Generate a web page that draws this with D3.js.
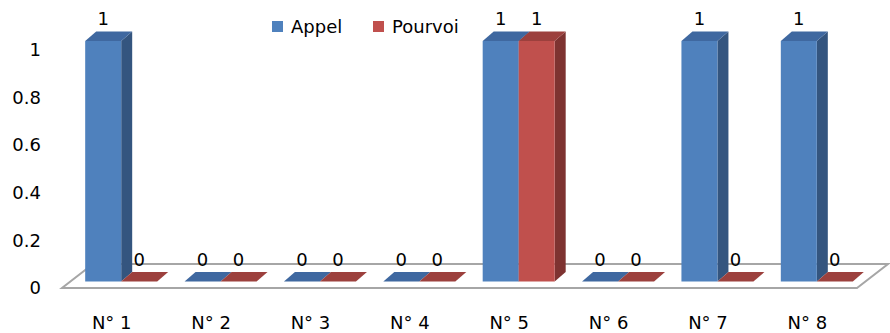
<!DOCTYPE html>
<html>
<head>
<meta charset="utf-8">
<script src="https://cdn.jsdelivr.net/npm/d3@7"></script>
<style>
  body { margin: 0; background: #fff; }
  text { font-family: "DejaVu Sans", sans-serif; fill: #000; }
</style>
</head>
<body>
<div id="chart"></div>
<script>
// chart data
const categories = ["N° 1", "N° 2", "N° 3", "N° 4", "N° 5", "N° 6", "N° 7", "N° 8"];
const seriesNames = ["Appel", "Pourvoi"];
const appel = [1, 0, 0, 0, 1, 0, 1, 1];
const pourvoi = [0, 0, 0, 0, 1, 0, 0, 0];
const yTicks = [0, 0.2, 0.4, 0.6, 0.8, 1];

const width = 890, height = 333;
const fontSize = "18px";

// colours per series: front, top, side
const colors = {
    Appel:   {front: "#4F81BD", top: "#3F68A0", side: "#34557F"},
    Pourvoi: {front: "#C0504D", top: "#9C403D", side: "#7E3331"}
};

// 3d offsets
const floorDepth = {dx: 31, dy: -24};
const barDepth = {dx: 11, dy: -9.5};
const barShift = {dx: 9.5, dy: -6.5};

const svg = d3.select("#chart")
    .append("svg")
    .attr("width", width)
    .attr("height", height);

const x = d3.scaleBand()
    .domain(categories)
    .range([62, 857]);

const xs = d3.scaleBand()
    .domain(seriesNames)
    .range([0, 72]);

// bar front face scale
const y = d3.scaleLinear().domain([0, 1]).range([281.5, 41]);
// value axis labels sit on the wall edge
const yLabel = d3.scaleLinear().domain([0, 1]).range([288, 50]);

// floor
const fy = 288;
const floorPts = [
    [62, fy], [857, fy],
    [857 + floorDepth.dx, fy + floorDepth.dy],
    [62 + floorDepth.dx, fy + floorDepth.dy]
];
svg.append("polygon")
    .attr("points", floorPts.map(p => p.join(",")).join(" "))
    .attr("fill", "#fff")
    .attr("stroke", "#A6A6A6")
    .attr("stroke-width", 2);

// flatten data
const bars = [];
categories.forEach(function(c, i) {
    bars.push({cat: c, s: "Appel", v: appel[i]});
    bars.push({cat: c, s: "Pourvoi", v: pourvoi[i]});
});

const gBars = svg.append("g");
bars.forEach(function(d) {
    const x0 = x(d.cat) + x.bandwidth() / 2 - 36 + barShift.dx + xs(d.s);
    const x1 = x0 + xs.bandwidth();
    const yb = y(0);
    const yt = y(d.v);
    const c = colors[d.s];
    const g = gBars.append("g");
    if (d.v > 0) {
        g.append("polygon")
            .attr("points", [[x1, yb], [x1 + barDepth.dx, yb + barDepth.dy], [x1 + barDepth.dx, yt + barDepth.dy], [x1, yt]].map(p => p.join(",")).join(" "))
            .attr("fill", c.side);
        g.append("rect")
            .attr("x", x0).attr("y", yt)
            .attr("width", x1 - x0).attr("height", yb - yt)
            .attr("fill", c.front);
    }
    g.append("polygon")
        .attr("points", [[x0, yt], [x1, yt], [x1 + barDepth.dx, yt + barDepth.dy], [x0 + barDepth.dx, yt + barDepth.dy]].map(p => p.join(",")).join(" "))
        .attr("fill", c.top);

    // data label
    svg.append("text")
        .attr("x", (x0 + x1) / 2)
        .attr("y", yt - 16)
        .attr("text-anchor", "middle")
        .style("font-size", fontSize)
        .text(d.v);
});

// value axis (labels only)
svg.append("g")
    .attr("transform", "translate(45,0)")
    .call(d3.axisLeft(yLabel).tickValues(yTicks).tickFormat(d3.format("")).tickSize(0).tickPadding(4))
    .call(g => g.select(".domain").remove())
    .selectAll("text")
    .style("font-size", fontSize)
    .style("font-family", "DejaVu Sans, sans-serif");

// category axis (labels only)
svg.append("g")
    .attr("transform", "translate(0,312)")
    .call(d3.axisBottom(x).tickSize(0).tickPadding(4))
    .call(g => g.select(".domain").remove())
    .selectAll("text")
    .style("font-size", fontSize)
    .style("font-family", "DejaVu Sans, sans-serif");

// legend
const legendX = [272, 373];
seriesNames.forEach(function(s, i) {
    svg.append("rect")
        .attr("x", legendX[i]).attr("y", 21)
        .attr("width", 11).attr("height", 11)
        .attr("fill", colors[s].front);
    svg.append("text")
        .attr("x", legendX[i] + 19)
        .attr("y", 33)
        .style("font-size", fontSize)
        .text(s);
});
</script>
</body>
</html>
